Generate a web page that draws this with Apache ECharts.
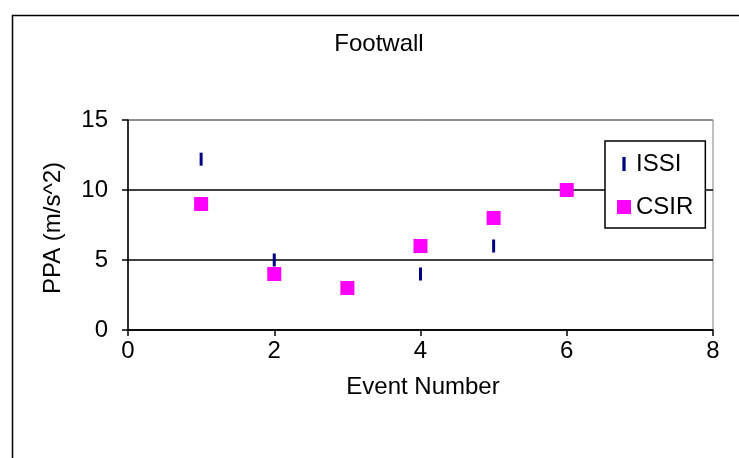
<!DOCTYPE html>
<html>
<head>
<meta charset="utf-8">
<script src="https://cdn.jsdelivr.net/npm/echarts@6/dist/echarts.min.js"></script>
<style>
  html, body { margin: 0; padding: 0; background: #fff; }
  #chart { width: 739px; height: 458px; }
</style>
</head>
<body>
<div id="chart"></div>
<script>
// Peak particle acceleration per event, two measurement systems
const chartTitle = 'Footwall';
const xAxisName = 'Event Number';
const yAxisName = 'PPA (m/s^2)';
const seriesNames = ['ISSI', 'CSIR'];
const issiEvents = [1, 2, 4, 5];
const issiValues = [12.2, 5, 4, 6];
const csirEvents = [1, 2, 3, 4, 5, 6];
const csirValues = [9, 4, 3, 6, 8, 10];
const xTicks = [0, 2, 4, 6, 8];
const yTicks = [0, 5, 10, 15];

const pairs = (xs, ys) => xs.map((x, i) => [x, ys[i]]);
const font = 'Liberation Sans, Arial, sans-serif';
const dashIcon = 'path://M0,0h3v13h-3z';

// caption text (title and axis names)
function caption(text, x, y, size, rotation) {
  return {
    type: 'text', x: x, y: y, rotation: rotation || 0,
    silent: true, z: 10,
    style: {
      text: text, fontFamily: font, fontSize: size, fill: '#000',
      align: 'center', verticalAlign: 'middle'
    }
  };
}

const chart = echarts.init(document.getElementById('chart'), null, { renderer: 'canvas' });
chart.setOption({
  animation: false,
  backgroundColor: '#fff',
  graphic: [
    {
      type: 'rect', left: 10, top: 13, silent: true,
      shape: { width: 760, height: 480 },
      style: { fill: 'none', stroke: '#000', lineWidth: 1.5 }
    },
    caption(chartTitle, 379, 44, 24),
    caption(xAxisName, 423, 387, 24),
    caption(yAxisName, 53, 228, 24, Math.PI / 2)
  ],
  grid: {
    left: 128, right: 26, top: 120, bottom: 128,
    show: true, borderColor: '#808080', borderWidth: 1
  },
  legend: {
    left: 605, top: 141,
    orient: 'vertical',
    padding: [11, 12, 9, 12],
    itemGap: 19,
    itemWidth: 14, itemHeight: 14,
    backgroundColor: '#fff',
    borderColor: '#000', borderWidth: 1.5,
    textStyle: { fontFamily: font, fontSize: 24, color: '#000' },
    data: [
      { name: seriesNames[0], icon: dashIcon },
      { name: seriesNames[1], icon: 'rect' }
    ]
  },
  xAxis: {
    type: 'value', min: xTicks[0], max: xTicks[xTicks.length - 1], interval: 2,
    axisLine: { lineStyle: { color: '#000', width: 1.5 } },
    axisTick: { show: true, length: 6, lineStyle: { color: '#000', width: 1.5 } },
    axisLabel: { fontFamily: font, fontSize: 24, color: '#000', margin: 9 },
    splitLine: { show: false }
  },
  yAxis: {
    type: 'value', min: yTicks[0], max: yTicks[yTicks.length - 1], interval: 5,
    axisLine: { lineStyle: { color: '#000', width: 1.5 } },
    axisTick: { show: true, length: 6, lineStyle: { color: '#000', width: 1.5 } },
    axisLabel: { fontFamily: font, fontSize: 24, color: '#000', margin: 20 },
    splitLine: { show: true, lineStyle: { color: ['#000', '#000', '#000', '#808080'], width: 1.5 } }
  },
  series: [
    {
      name: seriesNames[0], type: 'scatter',
      symbol: dashIcon, symbolSize: [3, 13],
      itemStyle: { color: '#000080', opacity: 1 },
      data: pairs(issiEvents, issiValues), z: 3
    },
    {
      name: seriesNames[1], type: 'scatter',
      symbol: 'rect', symbolSize: 14,
      itemStyle: { color: '#ff00ff', opacity: 1 },
      data: pairs(csirEvents, csirValues), z: 2
    }
  ]
});
</script>
</body>
</html>
